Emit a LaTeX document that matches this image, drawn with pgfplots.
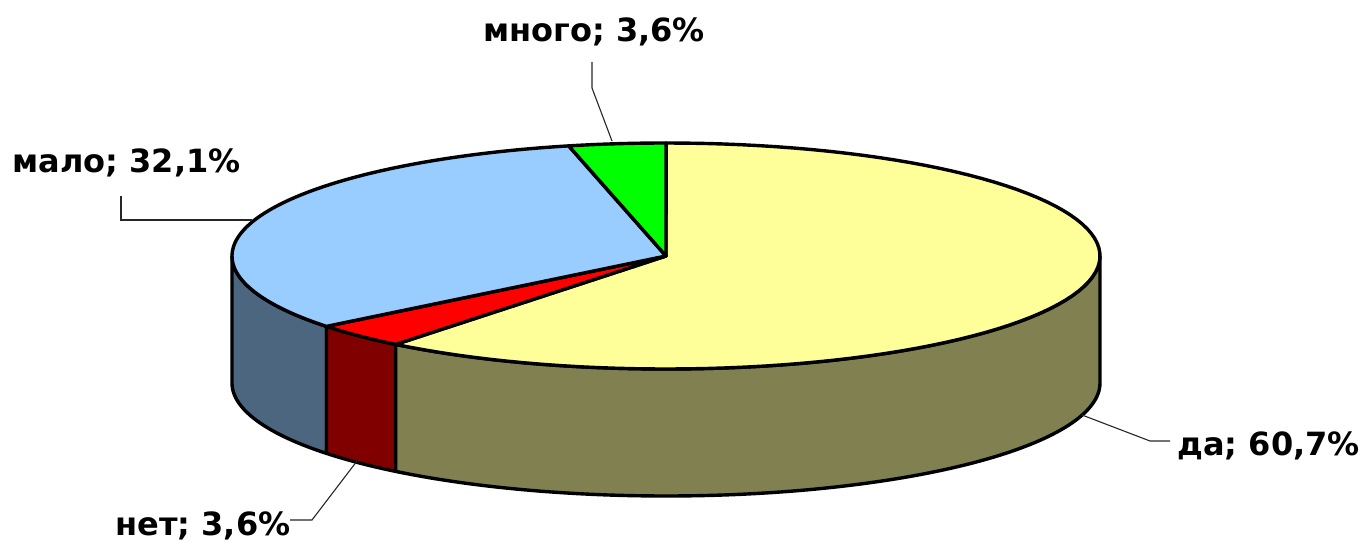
\documentclass[border=0pt]{standalone}
\usepackage{pgfplots}
\pgfplotsset{compat=1.18}
\usepackage{fontspec}
\setmainfont{DejaVu Sans}
\definecolor{ytop}{HTML}{FFFF99}
\definecolor{yside}{HTML}{808050}
\definecolor{btop}{HTML}{99CCFF}
\definecolor{bside}{HTML}{4D6680}
\definecolor{rtop}{HTML}{FF0000}
\definecolor{rside}{HTML}{800000}
\definecolor{gtop}{HTML}{00FF00}
% data (percent)
\def\vda{60.7}
\def\vnet{3.6}
\def\vmalo{32.1}
\def\vmnogo{3.6}
% geometry (axis units = pixels)
\def\cx{666}
\def\cy{286}
\def\rx{434}
\def\ry{113}
\def\dep{127}
\pgfmathsetmacro\aA{90-3.6*\vda}               % end of da
\pgfmathsetmacro\aB{90-3.6*(\vda+\vnet)}       % end of net
\pgfmathsetmacro\aC{90-3.6*(\vda+\vnet+\vmalo)}% end of malo
\pgfmathsetmacro\aD{90-3.6*(\vda+\vnet+\vmalo+\vmnogo)}
\pgfmathsetmacro\sA{\aA+360}
\pgfmathsetmacro\sB{\aB+360}
\newcommand\sideface[3]{%
\addplot[fill=#3, draw=black, line width=1.7pt, line join=round,
  samples at={0,1,...,100,150,200,201,...,300}]
  ({\cx+\rx*cos(#1+(#2-#1)*(min(x,100)-max(x-200,0))/100)},
   {\cy+\ry*sin(#1+(#2-#1)*(min(x,100)-max(x-200,0))/100)-\dep*(x>100)}) -- cycle;}
\newcommand\topwedge[3]{%
\addplot[fill=#3, draw=black, line width=1.7pt, line join=round,
  domain=#1:#2, samples=90]
  ({\cx+\rx*cos(x)},{\cy+\ry*sin(x)}) -- (axis cs:\cx,\cy) -- cycle;}
\begin{document}
\begin{tikzpicture}
\begin{axis}[scale only axis, width=683pt, height=271pt,
  xmin=0, xmax=1366, ymin=0, ymax=542, hide axis, clip=false,
  anchor=south west, at={(0pt,0pt)}]
\sideface{180}{\sB}{bside}
\sideface{\sB}{\sA}{rside}
\sideface{\sA}{360}{yside}
\topwedge{\aA}{90}{ytop}
\topwedge{\aB}{\aA}{rtop}
\topwedge{\aC}{\aB}{btop}
\topwedge{\aD}{\aC}{gtop}
% leader lines
\addplot[black!85, line width=0.55pt] coordinates {(121,346) (121,322) (252,322)};
\addplot[black!85, line width=0.55pt] coordinates {(592,480) (592,454) (612,401)};
\addplot[black!85, line width=0.55pt] coordinates {(290,22) (312,22) (357,81)};
\addplot[black!85, line width=0.55pt] coordinates {(1082,127) (1150,101) (1170,101)};
% labels
\begin{scope}[every node/.style={anchor=base west, inner sep=0pt, font=\fontsize{16}{18}\selectfont\bfseries}]
\node at (axis cs:12,369) {мало; 32,1\%};
\node at (axis cs:483,500) {много; 3,6\%};
\node at (axis cs:115,7) {нет; 3,6\%};
\node at (axis cs:1177,87) {да; 60,7\%};
\end{scope}
\end{axis}
\pgfresetboundingbox
\useasboundingbox (0pt,0pt) rectangle (683pt,271pt);
\end{tikzpicture}
\end{document}
